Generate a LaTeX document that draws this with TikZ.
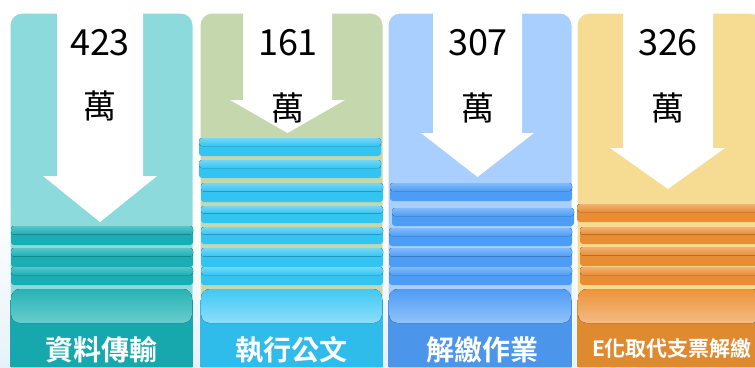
\documentclass[tikz,border=0pt]{standalone}
\usepackage{fontspec}
\setmainfont{Noto Sans CJK TC}
\newfontfamily\cjkbold{Noto Sans CJK TC Bold}
\usetikzlibrary{calc}
\definecolor{bgA}{HTML}{8DDADC}\definecolor{stA}{HTML}{1AAEB4}\definecolor{hiA}{HTML}{55C6C9}\definecolor{dkA}{HTML}{17A8AD}\definecolor{btA}{HTML}{27B3B5}\definecolor{bbA}{HTML}{6ACDCD}
\definecolor{bgB}{HTML}{C5D7AD}\definecolor{stB}{HTML}{33C4F2}\definecolor{hiB}{HTML}{72D8F8}\definecolor{dkB}{HTML}{30BCEB}\definecolor{btB}{HTML}{3FC9F5}\definecolor{bbB}{HTML}{8DDEF9}
\definecolor{bgC}{HTML}{A8CFFD}\definecolor{stC}{HTML}{4D9DF6}\definecolor{hiC}{HTML}{82BBF9}\definecolor{dkC}{HTML}{4B95EA}\definecolor{btC}{HTML}{4F9CF5}\definecolor{bbC}{HTML}{90C2FA}
\definecolor{bgD}{HTML}{F6DC93}\definecolor{stD}{HTML}{E88D33}\definecolor{hiD}{HTML}{F2B073}\definecolor{dkD}{HTML}{E08A2F}\definecolor{btD}{HTML}{EC9438}\definecolor{bbD}{HTML}{F5BA84}
\tikzset{
  panelbox/.style={rounded corners=12pt, draw=white, line width=1pt},
  arrowshape/.style={fill=white, draw=none},
  numtext/.style={font=\fontsize{36}{40}\selectfont, text=black, inner sep=0pt},
  unittext/.style={font=\fontsize{33}{36}\selectfont, text=black, inner sep=0pt},
  labeltext/.style={font=\cjkbold\fontsize{28}{30}\selectfont, text=white, inner sep=0pt},
  stripebox/.style={rounded corners=3pt},
}
% stripe: #1 x0, #2 x1, #3 y0, #4 y1, #5 base colour, #6 highlight colour
\newcommand{\mystripe}[6]{%
  \fill[stripebox, #5] (#1,#3) rectangle (#2,#4);
  \fill[stripebox, top color=#6, bottom color=#5] (#1,#3) rectangle (#2,{#3+0.45*(#4-#3)});
}
% bottom: #1 x0, #2 x1, #3 dark, #4 button top, #5 button bottom
\newcommand{\mybottom}[5]{%
  \fill[#3] (#1,300) rectangle (#2,367);
  \fill[rounded corners=9pt, top color=#4, bottom color=#5] ({#1+1},289) rectangle ({#2-1},323);
}
\begin{document}
\begin{tikzpicture}[x=1pt,y=-1pt]
\useasboundingbox (0,0) rectangle (755,367);
\shade[top color=white, bottom color=white, middle color=white] (0,0) rectangle (755,200);
\shade[top color=white, bottom color={rgb,255:red,230;green,242;blue,251}] (0,200) rectangle (755,367);
\begin{scope}
\clip (0,0) rectangle (755,367);
% ---------- panel 1 ----------
\filldraw[panelbox, fill=bgA] (10,13) rectangle (193,390);
\fill[arrowshape] (57,13) -- (143,13) -- (143,176) -- (157,176) -- (100,222) -- (43,176) -- (57,176) -- cycle;
\mystripe{11}{193}{226}{245}{stA}{hiA}
\mystripe{11}{193}{248}{267}{stA}{hiA}
\mystripe{11}{193}{267}{285}{stA}{hiA}
\mybottom{10}{193}{dkA}{btA}{bbA}
% ---------- panel 2 ----------
\filldraw[panelbox, fill=bgB] (200,13) rectangle (383,390);
\fill[arrowshape] (243,13) -- (332,13) -- (332,100) -- (345,100) -- (287.5,133) -- (230,100) -- (243,100) -- cycle;
\mystripe{199}{381}{138}{156}{stB}{hiB}
\mystripe{199}{381}{160}{178}{stB}{hiB}
\mystripe{201}{383}{183}{202}{stB}{hiB}
\mystripe{201}{383}{206}{223}{stB}{hiB}
\mystripe{201}{383}{227}{244}{stB}{hiB}
\mystripe{201}{383}{248}{267}{stB}{hiB}
\mystripe{201}{383}{267}{285}{stB}{hiB}
\mybottom{200}{383}{dkB}{btB}{bbB}
% ---------- panel 3 ----------
\filldraw[panelbox, fill=bgC] (388,13) rectangle (572,390);
\fill[arrowshape] (433,13) -- (522,13) -- (522,133) -- (534,133) -- (477.5,177) -- (421,133) -- (433,133) -- cycle;
\mystripe{390}{572}{183}{201}{stC}{hiC}
\mystripe{392}{574}{208}{226}{stC}{hiC}
\mystripe{389}{572}{228}{246}{stC}{hiC}
\mystripe{389}{572}{248}{267}{stC}{hiC}
\mystripe{389}{572}{267}{285}{stC}{hiC}
\mybottom{388}{572}{dkC}{btC}{bbC}
% ---------- panel 4 ----------
\filldraw[panelbox, fill=bgD] (577,13) rectangle (762,390);
\fill[arrowshape] (623,13) -- (713,13) -- (713,148) -- (725,148) -- (668,189) -- (610,148) -- (623,148) -- cycle;
\mystripe{577}{762}{204}{222}{stD}{hiD}
\mystripe{580}{762}{227}{244}{stD}{hiD}
\mystripe{580}{762}{247}{266}{stD}{hiD}
\mystripe{580}{762}{267}{285}{stD}{hiD}
\mybottom{577}{762}{dkD}{btD}{bbD}
\end{scope}
% ---------- texts ----------
\node[numtext] (n1) at (100,43) {423};
\node[unittext] (u1) at (100,106) {萬};
\node[labeltext] (l1) at (101,350) {資料傳輸};
\node[numtext] (n2) at (288,43) {161};
\node[unittext] (u2) at (288,108) {萬};
\node[labeltext] (l2) at (291,350) {執行公文};
\node[numtext] (n3) at (478,43) {307};
\node[unittext] (u3) at (478,108) {萬};
\node[labeltext] (l3) at (482,350) {解繳作業};
\node[numtext] (n4) at (668,43) {326};
\node[unittext] (u4) at (668,108) {萬};
\node[labeltext, font=\cjkbold\fontsize{21}{24}\selectfont] (l4) at (672,349) {E化取代支票解繳};
\end{tikzpicture}
\end{document}
